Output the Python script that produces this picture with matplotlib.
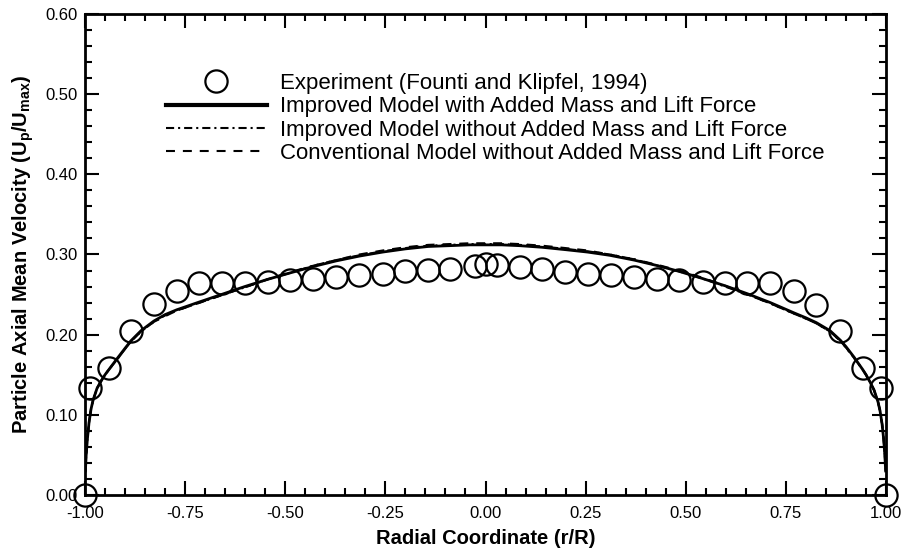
import matplotlib
matplotlib.use("Agg")
import matplotlib.pyplot as plt
from matplotlib.ticker import MultipleLocator, FormatStrFormatter

plt.rcParams['font.family'] = ['Liberation Sans', 'DejaVu Sans']
plt.rcParams['mathtext.fontset'] = 'custom'
plt.rcParams['mathtext.rm'] = 'Liberation Sans'
plt.rcParams['mathtext.bf'] = 'Liberation Sans:bold'

# Experimental data (Founti and Klipfel, 1994)
exp_x = [-1.0, -0.987, -0.941, -0.886, -0.828, -0.771, -0.716, -0.657, -0.601, -0.544,
         -0.488, -0.430, -0.373, -0.315, -0.257, -0.200, -0.143, -0.088, -0.027, 0.002,
         0.029, 0.085, 0.141, 0.199, 0.255, 0.313, 0.371, 0.428, 0.483, 0.542,
         0.598, 0.654, 0.711, 0.771, 0.826, 0.886, 0.943, 0.988, 1.0]
exp_y = [0.0, 0.133, 0.158, 0.205, 0.238, 0.255, 0.264, 0.264, 0.264, 0.266,
         0.268, 0.269, 0.272, 0.275, 0.276, 0.279, 0.281, 0.282, 0.286, 0.288,
         0.287, 0.284, 0.282, 0.278, 0.276, 0.275, 0.272, 0.269, 0.268, 0.266,
         0.265, 0.264, 0.264, 0.255, 0.237, 0.205, 0.158, 0.133, 0.0]

# Model curves
mod_x = [-0.999, -0.997, -0.994, -0.99, -0.985, -0.98, -0.97, -0.96, -0.95, -0.941,
         -0.92, -0.90, -0.886, -0.86, -0.828, -0.80, -0.771, -0.716, -0.657, -0.601,
         -0.544, -0.488, -0.430, -0.373, -0.315, -0.257, -0.200, -0.143, -0.090, -0.040,
         0.0, 0.040, 0.085, 0.141, 0.200, 0.255, 0.310, 0.371, 0.430, 0.483,
         0.542, 0.598, 0.654, 0.711, 0.771, 0.800, 0.826, 0.860, 0.886, 0.900,
         0.920, 0.941, 0.950, 0.960, 0.970, 0.980, 0.985, 0.990, 0.994, 0.997, 0.999]
improved_with = [0.030, 0.050, 0.070, 0.090, 0.107, 0.118, 0.133, 0.142, 0.150, 0.156,
                 0.170, 0.183, 0.192, 0.205, 0.217, 0.225, 0.231, 0.2405, 0.2505, 0.260,
                 0.269, 0.277, 0.285, 0.292, 0.298, 0.303, 0.307, 0.310, 0.311, 0.312,
                 0.312, 0.312, 0.311, 0.309, 0.306, 0.303, 0.299, 0.293, 0.286, 0.279,
                 0.270, 0.261, 0.251, 0.240, 0.227, 0.221, 0.215, 0.205, 0.193, 0.185,
                 0.172, 0.157, 0.150, 0.141, 0.131, 0.116, 0.105, 0.089, 0.070, 0.050, 0.030]
improved_without = [0.030, 0.050, 0.070, 0.090, 0.107, 0.118, 0.133, 0.142, 0.150, 0.156,
                    0.169, 0.182, 0.191, 0.204, 0.216, 0.224, 0.230, 0.2395, 0.2495, 0.259,
                    0.269, 0.277, 0.286, 0.293, 0.299, 0.304, 0.308, 0.311, 0.312, 0.313,
                    0.313, 0.313, 0.312, 0.310, 0.307, 0.304, 0.300, 0.294, 0.286, 0.279,
                    0.270, 0.260, 0.250, 0.239, 0.226, 0.220, 0.214, 0.204, 0.192, 0.184,
                    0.171, 0.157, 0.150, 0.141, 0.131, 0.116, 0.105, 0.089, 0.070, 0.050, 0.030]
conventional_without = [0.030, 0.050, 0.070, 0.090, 0.107, 0.118, 0.133, 0.142, 0.150, 0.156,
                        0.169, 0.182, 0.191, 0.204, 0.216, 0.223, 0.230, 0.2395, 0.2495, 0.259,
                        0.269, 0.278, 0.286, 0.293, 0.300, 0.305, 0.309, 0.312, 0.313, 0.314,
                        0.314, 0.314, 0.313, 0.311, 0.308, 0.305, 0.300, 0.294, 0.287, 0.280,
                        0.271, 0.261, 0.250, 0.239, 0.226, 0.220, 0.214, 0.204, 0.192, 0.184,
                        0.171, 0.157, 0.150, 0.141, 0.131, 0.116, 0.105, 0.089, 0.070, 0.050, 0.030]

labels = ["Experiment (Founti and Klipfel, 1994)",
          "Improved Model with Added Mass and Lift Force",
          "Improved Model without Added Mass and Lift Force",
          "Conventional Model without Added Mass and Lift Force"]

fig = plt.figure(figsize=(9.11, 5.49), dpi=100)
ax = fig.add_axes([0.0933, 0.0984, 0.8793, 0.8761])

ax.plot(exp_x, exp_y, linestyle='none', marker='o', markersize=16, markerfacecolor='none',
        markeredgecolor='black', markeredgewidth=1.6, label=labels[0], clip_on=False, zorder=3)
ax.plot(mod_x, improved_with, '-', color='black', lw=2.0, label=labels[1])
ax.plot(mod_x, improved_without, color='black', lw=1.5, dashes=(3.9, 1.9, 1.0, 1.9), label=labels[2])
ax.plot(mod_x, conventional_without, color='black', lw=1.5, dashes=(4.3, 3.8), label=labels[3])

ax.set_xlim(-1.0, 1.0)
ax.set_ylim(0.0, 0.6)
ax.xaxis.set_major_locator(MultipleLocator(0.25))
ax.xaxis.set_minor_locator(MultipleLocator(0.05))
ax.yaxis.set_major_locator(MultipleLocator(0.1))
ax.yaxis.set_minor_locator(MultipleLocator(0.02))
ax.xaxis.set_major_formatter(FormatStrFormatter('%.2f'))
ax.yaxis.set_major_formatter(FormatStrFormatter('%.2f'))
ax.tick_params(which='both', direction='in', top=True, right=True, labelsize=12, width=1.5)
ax.tick_params(which='major', length=10, pad=5)
ax.tick_params(axis='x', which='major', pad=8)
ax.tick_params(which='minor', length=5)
for s in ax.spines.values():
    s.set_linewidth(2)

ax.set_xlabel("Radial Coordinate (r/R)", fontsize=14.5, fontweight='bold', labelpad=6)
ax.set_ylabel(r"Particle Axial Mean Velocity (U$_\mathbf{p}$/U$_\mathbf{max}$)",
              fontsize=14.5, fontweight='bold', labelpad=7)

leg = ax.legend(loc='upper left', bbox_to_anchor=(0.101, 0.877), frameon=False,
                fontsize=16, handlelength=4.55, handletextpad=0.6, labelspacing=0.1,
                numpoints=1, borderaxespad=0, borderpad=0)
for h in leg.get_lines():
    if h.get_linestyle() == '-':
        h.set_linewidth(3)

fig.savefig("out.png", dpi=100)
